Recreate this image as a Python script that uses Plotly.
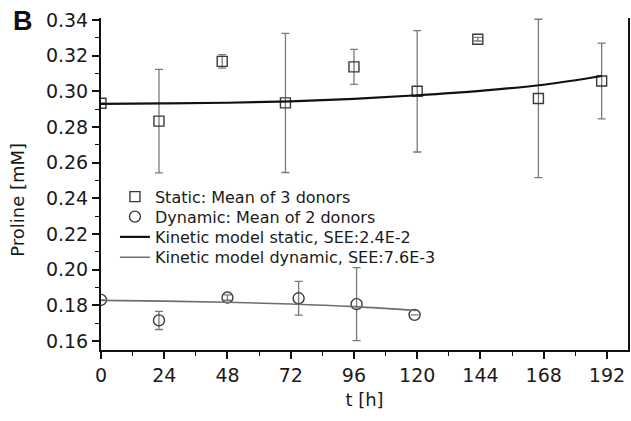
import plotly.graph_objects as go

# Static: mean of 3 donors
static_t = [0, 22, 46, 70, 96, 120, 143, 166, 190]
static_y = [0.2933, 0.2833, 0.3168, 0.2935, 0.3137, 0.3000, 0.3292, 0.2960, 0.3058]
static_err = [0.0, 0.029, 0.0038, 0.039, 0.0098, 0.034, 0.0010, 0.0444, 0.0212]

# Dynamic: mean of 2 donors
dyn_t = [0, 22, 48, 75, 97, 119]
dyn_y = [0.1831, 0.1716, 0.1844, 0.1840, 0.1807, 0.1747]
dyn_err = [0.0, 0.0051, 0.0015, 0.0095, 0.0205, 0.0]

# Kinetic model curves
model_static_t = [0, 24, 48, 72, 96, 120, 144, 168, 190]
model_static_y = [0.2930, 0.2932, 0.2936, 0.2944, 0.2958, 0.2978, 0.3003, 0.3037, 0.3086]
model_dyn_t = [0, 24, 48, 72, 96, 120]
model_dyn_y = [0.1828, 0.1824, 0.1818, 0.1808, 0.1793, 0.1771]

x_ticks = [0, 24, 48, 72, 96, 120, 144, 168, 192]
y_ticks = [0.16, 0.18, 0.20, 0.22, 0.24, 0.26, 0.28, 0.30, 0.32, 0.34]

FONT = "DejaVu Sans"
ERR_COL = "#7a7a7a"
MK_COL = "#3a3a3a"
TXT = "#1a1a1a"

W, H = 631, 421
ML, MR, MT, MB = 101, 1, 18, 71
pw, ph = W - ML - MR, H - MT - MB


def px2paper(px, py):
    return (px - ML) / pw, (H - MB - py) / ph


fig = go.Figure()

fig.add_trace(go.Scatter(
    x=static_t, y=static_y, mode="markers", name="Static: Mean of 3 donors",
    marker=dict(symbol="square-open", size=10, color=MK_COL, line=dict(width=1.4)),
    error_y=dict(type="data", array=static_err, visible=True, color=ERR_COL,
                 thickness=1.3, width=4),
    legend="legend",
))
fig.add_trace(go.Scatter(
    x=dyn_t, y=dyn_y, mode="markers", name="Dynamic: Mean of 2 donors",
    marker=dict(symbol="circle-open", size=11, color=MK_COL, line=dict(width=1.4)),
    error_y=dict(type="data", array=dyn_err, visible=True, color=ERR_COL,
                 thickness=1.3, width=4),
    legend="legend2",
))
fig.add_trace(go.Scatter(
    x=model_static_t, y=model_static_y, mode="lines",
    name="Kinetic model static, SEE:2.4E-2",
    line=dict(color="#111111", width=2.2, shape="spline"),
    legend="legend3",
))
fig.add_trace(go.Scatter(
    x=model_dyn_t, y=model_dyn_y, mode="lines",
    name="Kinetic model dynamic, SEE:7.6E-3",
    line=dict(color="#6e6e6e", width=1.6, shape="spline"),
    legend="legend4",
))

legend_rows = [196.7, 216.7, 237.0, 257.3]


def legend_at(py):
    lx, ly = px2paper(115, py)
    return dict(
        x=lx, y=ly, xanchor="left", yanchor="middle",
        bgcolor="rgba(0,0,0,0)", borderwidth=0,
        font=dict(family=FONT, size=16, color=TXT),
        itemwidth=30,
    )


ax, ay = px2paper(17.5, 200)
bx, by = px2paper(23, 21)

fig.update_layout(
    width=W, height=H,
    margin=dict(l=ML, r=MR, t=MT, b=MB),
    paper_bgcolor="white", plot_bgcolor="white",
    font=dict(family=FONT, color=TXT),
    showlegend=True,
    legend=legend_at(legend_rows[0]),
    legend2=legend_at(legend_rows[1]),
    legend3=legend_at(legend_rows[2]),
    legend4=legend_at(legend_rows[3]),
    xaxis=dict(
        range=[0, 200], tickvals=x_ticks, ticktext=[str(v) for v in x_ticks],
        showgrid=False, zeroline=False,
        showline=True, linecolor="#111111", linewidth=2,
        ticks="outside", ticklen=7, tickwidth=1.5, tickcolor="#111111",
        minor=dict(dtick=12, tick0=0, ticks="outside", ticklen=4, tickwidth=1.2, tickcolor="#111111"),
        tickfont=dict(family=FONT, size=19, color=TXT),
        title=dict(text="t [h]", font=dict(family=FONT, size=18, color=TXT), standoff=9),
    ),
    yaxis=dict(
        range=[0.155, 0.3411], tickvals=y_ticks, ticktext=[f"{v:.2f}" for v in y_ticks],
        showgrid=False, zeroline=False,
        showline=True, linecolor="#111111", linewidth=2, mirror=True,
        ticks="outside", ticklen=7, tickwidth=1.5, tickcolor="#111111",
        minor=dict(dtick=0.01, tick0=0.15, ticks="outside", ticklen=4, tickwidth=1.2, tickcolor="#111111"),
        tickfont=dict(family=FONT, size=19, color=TXT),
    ),
    annotations=[
        dict(text="Proline [mM]", x=ax, y=ay, xref="paper", yref="paper",
             xanchor="center", yanchor="middle",
             showarrow=False, textangle=-90,
             font=dict(family=FONT, size=18, color=TXT)),
        dict(text="<b>B</b>", x=bx, y=by, xref="paper", yref="paper",
             xanchor="center", yanchor="middle",
             showarrow=False, font=dict(family="Liberation Sans", size=27, color="#111111")),
    ],
)

fig.write_html("out.html", config={"displayModeBar": False},
               post_script="document.body.style.margin='0px';")
